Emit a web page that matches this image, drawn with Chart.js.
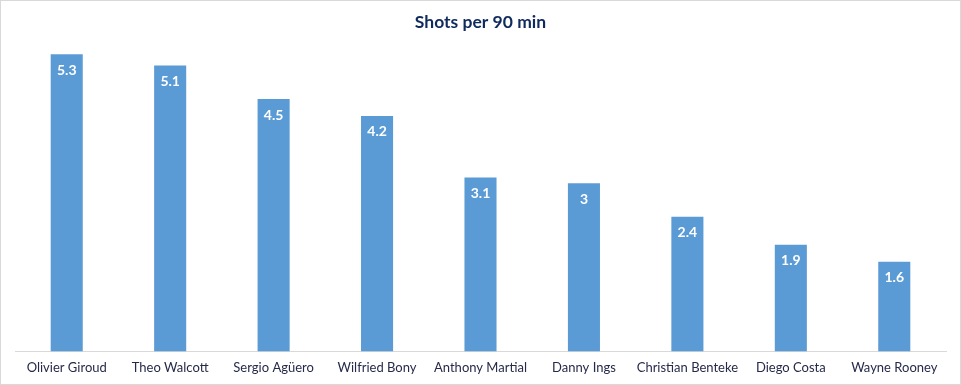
<!DOCTYPE html>
<html><head><meta charset="utf-8">
<script src="https://cdn.jsdelivr.net/npm/chart.js@4"></script>
<style>html,body{margin:0;padding:0;background:#fff}#wrap{width:961px;height:385px;position:relative}</style>
</head><body><div id="wrap"><canvas id="c"></canvas></div>
<script>
const titleText = "Shots per 90 min";
const players = ["Olivier Giroud","Theo Walcott","Sergio Agüero","Wilfried Bony","Anthony Martial","Danny Ings","Christian Benteke","Diego Costa","Wayne Rooney"];
const shotsPer90 = [5.3,5.1,4.5,4.2,3.1,3,2.4,1.9,1.6];

const FONT = "Lato, 'Open Sans', 'Liberation Sans', sans-serif";

const extras = {
  id: 'extras',
  afterDraw(chart) {
    const ctx = chart.ctx;
    ctx.save();
    ctx.strokeStyle = '#d9d9d9';
    ctx.lineWidth = 1;
    ctx.strokeRect(0.5, 0.5, chart.width - 1, chart.height - 1);
    ctx.fillStyle = '#0F2A5C';
    ctx.font = "bold 17.5px " + FONT;
    ctx.textAlign = 'center';
    ctx.textBaseline = 'middle';
    ctx.fillText(titleText, chart.width / 2, 22);
    const meta = chart.getDatasetMeta(0);
    ctx.fillStyle = '#ffffff';
    ctx.font = "bold 14px " + FONT;
    meta.data.forEach((bar, i) => {
      ctx.fillText(String(shotsPer90[i]), bar.x, bar.y + 16);
    });
    ctx.restore();
  }
};

new Chart(document.getElementById('c'), {
  type: 'bar',
  data: {
    labels: players,
    datasets: [{
      data: shotsPer90,
      backgroundColor: '#5B9BD5',
      borderWidth: 0,
      categoryPercentage: 1,
      barPercentage: 0.31
    }]
  },
  options: {
    responsive: true,
    maintainAspectRatio: false,
    animation: false,
    devicePixelRatio: 1,
    layout: { padding: { left: 15, right: 15, top: 15, bottom: 0 } },
    plugins: { legend: { display: false }, tooltip: { enabled: false }, title: { display: false } },
    scales: {
      x: {
        grid: { display: false, drawTicks: false },
        border: { display: true, color: '#d9d9d9', width: 1 },
        ticks: { color: '#262a4a', font: { family: FONT, size: 13 }, padding: 9, maxRotation: 0, autoSkip: false }
      },
      y: {
        display: false,
        min: 0, max: 6
      }
    }
  },
  plugins: [extras]
});
</script></body></html>
